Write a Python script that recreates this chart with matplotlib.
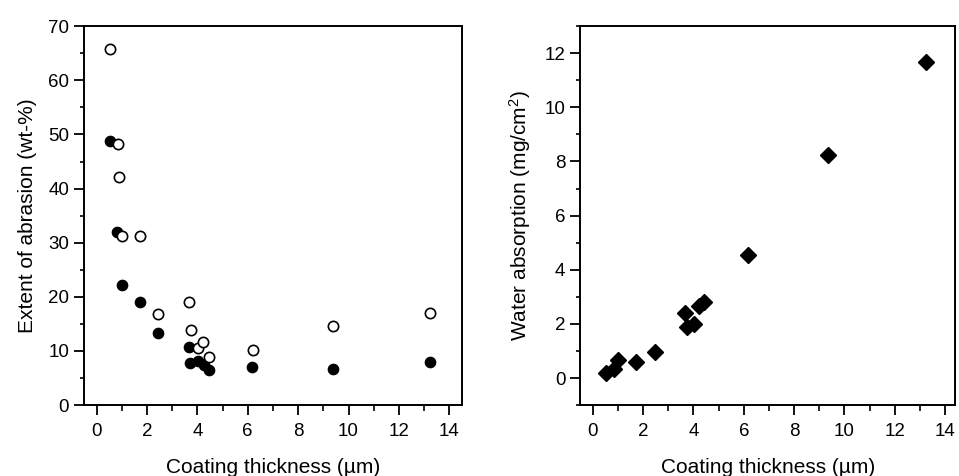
import matplotlib
matplotlib.use("Agg")
import matplotlib.pyplot as plt
from matplotlib.ticker import MultipleLocator

# =====================================
# Data
# =====================================
abr_filled_x = [0.53, 0.82, 0.99, 1.72, 2.45, 3.68, 3.72, 4.02, 4.28, 4.47, 6.16, 9.37, 13.25]
abr_filled_y = [48.8, 31.9, 22.2, 19.1, 13.4, 10.7, 7.8, 8.2, 7.4, 6.4, 7.1, 6.7, 7.9]

abr_open_x = [0.53, 0.83, 0.89, 0.99, 1.72, 2.45, 3.68, 3.76, 4.01, 4.24, 4.47, 6.19, 9.37, 13.25]
abr_open_y = [65.8, 48.2, 42.2, 31.2, 31.3, 16.8, 19.1, 13.8, 10.5, 11.6, 8.9, 10.2, 14.6, 17.1]

wat_x = [0.54, 0.86, 0.99, 1.73, 2.46, 3.65, 3.75, 4.01, 4.23, 4.43, 6.17, 9.34, 13.23]
wat_y = [0.20, 0.32, 0.68, 0.59, 0.96, 2.42, 1.89, 2.01, 2.65, 2.81, 4.55, 8.24, 11.69]

X_LABEL = "Coating thickness (\u00b5m)"

plt.rcParams["font.family"] = ["Liberation Sans", "DejaVu Sans"]
plt.rcParams["mathtext.fontset"] = "custom"
plt.rcParams["mathtext.rm"] = "Liberation Sans"
TICK_FS = 13.5
LABEL_FS = 15


def style_axes(ax):
    for s in ax.spines.values():
        s.set_linewidth(1.4)
    ax.tick_params(which="major", direction="out", length=7.2, width=1.3, labelsize=TICK_FS)
    ax.tick_params(axis="y", which="major", pad=3.5)
    ax.tick_params(axis="x", which="major", pad=6)
    ax.tick_params(axis="y", which="minor", direction="out", length=3, width=1.2)
    ax.tick_params(axis="x", which="minor", direction="out", length=4.5, width=1.2)
    ax.xaxis.set_major_locator(MultipleLocator(2))
    ax.xaxis.set_minor_locator(MultipleLocator(1))


fig = plt.figure(figsize=(9.59, 4.76), dpi=100)

# left panel: abrasion
ax1 = fig.add_axes([0.0876, 0.149, 0.394, 0.796])
ax1.plot(abr_filled_x, abr_filled_y, "o", color="black", markersize=7.4, linestyle="none")
ax1.plot(abr_open_x, abr_open_y, "o", markerfacecolor="white", markeredgecolor="black",
         markeredgewidth=1.2, markersize=7.4, linestyle="none")
ax1.set_xlim(-0.5, 14.5)
ax1.set_ylim(0, 70)
ax1.yaxis.set_major_locator(MultipleLocator(10))
ax1.yaxis.set_minor_locator(MultipleLocator(5))
style_axes(ax1)
ax1.set_xlabel(X_LABEL, fontsize=LABEL_FS, labelpad=13)
ax1.set_ylabel("Extent of abrasion (wt-%)", fontsize=LABEL_FS, labelpad=8)

# right panel: water absorption
ax2 = fig.add_axes([0.605, 0.149, 0.391, 0.796])
ax2.plot(wat_x, wat_y, "D", color="black", markersize=8, linestyle="none")
ax2.set_xlim(-0.5, 14.4)
ax2.set_ylim(-1, 13)
ax2.yaxis.set_major_locator(MultipleLocator(2))
ax2.yaxis.set_minor_locator(MultipleLocator(1))
style_axes(ax2)
ax2.set_xlabel(X_LABEL, fontsize=LABEL_FS, labelpad=13)
ax2.set_ylabel("Water absorption (mg/cm$\\mathrm{^2}$)", fontsize=LABEL_FS, labelpad=8)

fig.savefig("out.png", dpi=100)
plt.close(fig)
